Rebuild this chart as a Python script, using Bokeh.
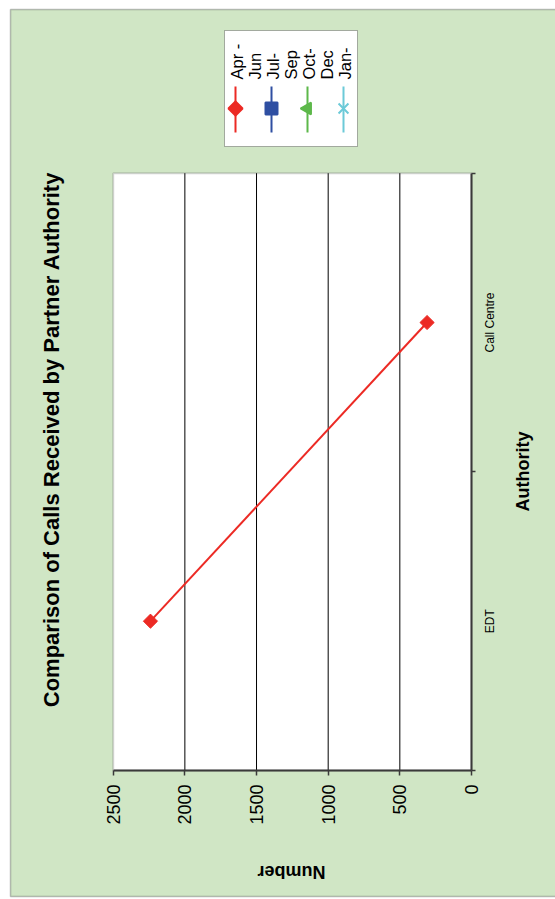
import math
from bokeh.plotting import figure
from bokeh.models import Range1d, LinearAxis, FixedTicker, BoxAnnotation, Label
from bokeh.core.properties import value
from bokeh.embed import file_html
from bokeh.resources import INLINE

# ---- data ----
categories = ["EDT", "Call Centre"]
series_names = ["Apr - Jun", "Jul-Sep", "Oct-Dec", "Jan-Mar"]
series_colors = ["#EC2A24", "#2F4FA2", "#5DB84A", "#6CCAD8"]
series_markers = ["square", "square", "triangle", "x"]
apr_jun = [2240, 310]
value_ticks = [0, 500, 1000, 1500, 2000, 2500]
grid_ticks = [500, 1000, 1500, 2000]
title_text = "Comparison of Calls Received by Partner Authority"
value_label = "Number"
category_label = "Authority"

FONT = "Liberation Sans"

# ---- geometry of the (rotated) chart, in page pixels ----
W, H = 555, 899
PX0, PX_PER = 471.0, 358.3 / 2500.0      # value 0 at px 471, 2500 at px 112.7
PY0, PY_PER = 770.0, 597.3 / 2.0          # category axis: 0 at py 770, 2 at py 172.7


def X(px):
    return (PX0 - px) / PX_PER


def Y(py):
    return (PY0 - py) / PY_PER


p = figure(width=W, height=H, output_backend="svg", toolbar_location=None,
           x_range=Range1d(X(0), X(W)), y_range=Range1d(Y(H), Y(0)),
           x_axis_location=None, y_axis_location=None, min_border=0,
           background_fill_color="white", border_fill_color="white",
           outline_line_color=None)
p.xgrid.visible = False
p.ygrid.visible = False

GREEN = "#D0E6C5"
ncat = len(categories)
# green page panel
p.add_layout(BoxAnnotation(left=X(10), right=X(620), top=Y(9), bottom=Y(896),
                           fill_color=GREEN, fill_alpha=1, line_color="#333333",
                           line_width=1.5, level="image"))
# plot area
p.add_layout(BoxAnnotation(left=2500, right=0, bottom=0, top=ncat,
                           fill_color="white", fill_alpha=1, line_color="#707070",
                           line_width=2, level="underlay"))
# gridlines (limited to the plot area)
p.segment(x0=grid_ticks, y0=[0] * len(grid_ticks), x1=grid_ticks,
          y1=[ncat] * len(grid_ticks), line_color="black", line_width=1)

# value axis (drawn below the rotated plot)
xa = LinearAxis(fixed_location=0, ticker=FixedTicker(ticks=value_ticks, minor_ticks=[]),
                bounds=(0, 2500), axis_line_color="#3a3a3a", axis_line_width=2,
                major_tick_line_color="#3a3a3a", major_tick_line_width=1.5,
                major_tick_in=0, major_tick_out=5, minor_tick_line_color=None,
                major_label_orientation=math.pi / 2, major_label_standoff=9,
                major_label_text_font=FONT, major_label_text_font_size="18px",
                major_label_text_color="black")
p.add_layout(xa, "below")

# category axis: boundary ticks
ya = LinearAxis(fixed_location=0,
                ticker=FixedTicker(ticks=list(range(ncat + 1)), minor_ticks=[]),
                bounds=(0, ncat), axis_line_color="#3a3a3a", axis_line_width=2,
                major_tick_line_color="#3a3a3a", major_tick_line_width=1.5,
                major_tick_in=0, major_tick_out=4, minor_tick_line_color=None,
                major_label_overrides={i: "" for i in range(ncat + 1)})
p.add_layout(ya, "right")
# category names at category centres
cat_pos = [i + 0.5 for i in range(ncat)]
for c, name in zip(cat_pos, categories):
    p.add_layout(Label(x=X(489), y=c, text=name, angle=math.pi / 2,
                       text_align="center", text_baseline="middle", text_font=FONT,
                       text_font_size="12px", text_color="black"))

# data series
p.line(x=apr_jun, y=cat_pos, line_color=series_colors[0], line_width=2)
p.scatter(x=apr_jun, y=cat_pos, marker="square", angle=math.pi / 4, size=10,
          fill_color=series_colors[0], line_color=series_colors[0])

# texts
p.add_layout(Label(x=X(51), y=Y(439), text=title_text, angle=math.pi / 2,
                   text_align="center", text_baseline="middle", text_font=FONT,
                   text_font_style="bold", text_font_size="22px", text_color="black"))
p.add_layout(Label(x=X(291), y=Y(871), text=value_label, angle=math.pi,
                   text_align="center", text_baseline="middle", text_font=FONT,
                   text_font_style="bold", text_font_size="18px", text_color="black"))
p.add_layout(Label(x=X(522), y=Y(471), text=category_label, angle=math.pi / 2,
                   text_align="center", text_baseline="middle", text_font=FONT,
                   text_font_style="bold", text_font_size="18px", text_color="black"))

# legend (rotated)
p.add_layout(BoxAnnotation(left=X(224), right=X(357), top=Y(30), bottom=Y(146),
                           fill_color="white", fill_alpha=1, line_color="black",
                           line_width=1, level="underlay"))
leg_x = [235, 271, 307, 343]
legend_lines = [["Apr -", "Jun"], ["Jul-", "Sep"], ["Oct-", "Dec"], ["Jan-"]]
for i, name in enumerate(series_names):
    cx = leg_x[i]
    p.segment(x0=[X(cx)], y0=[Y(86)], x1=[X(cx)], y1=[Y(132)],
              line_color=series_colors[i], line_width=2)
    ang = math.pi / 4 if i == 0 else (math.pi / 2 if series_markers[i] == "triangle" else 0)
    sz = 10 if i == 0 else (14 if series_markers[i] == "x" else 12)
    p.scatter(x=[X(cx)], y=[Y(108)], marker=series_markers[i], angle=ang, size=sz,
              fill_color=series_colors[i], line_color=series_colors[i], line_width=2)
    for j, t in enumerate(legend_lines[i]):
        p.text(x=[X(cx + 1.5 + 18 * j)], y=[Y(79)], text=[t], angle=math.pi / 2,
               text_align="left", text_baseline="middle", text_font=value(FONT),
               text_font_size="16.5px", text_color="black")

open("out.html", "w").write(file_html(p, INLINE))
